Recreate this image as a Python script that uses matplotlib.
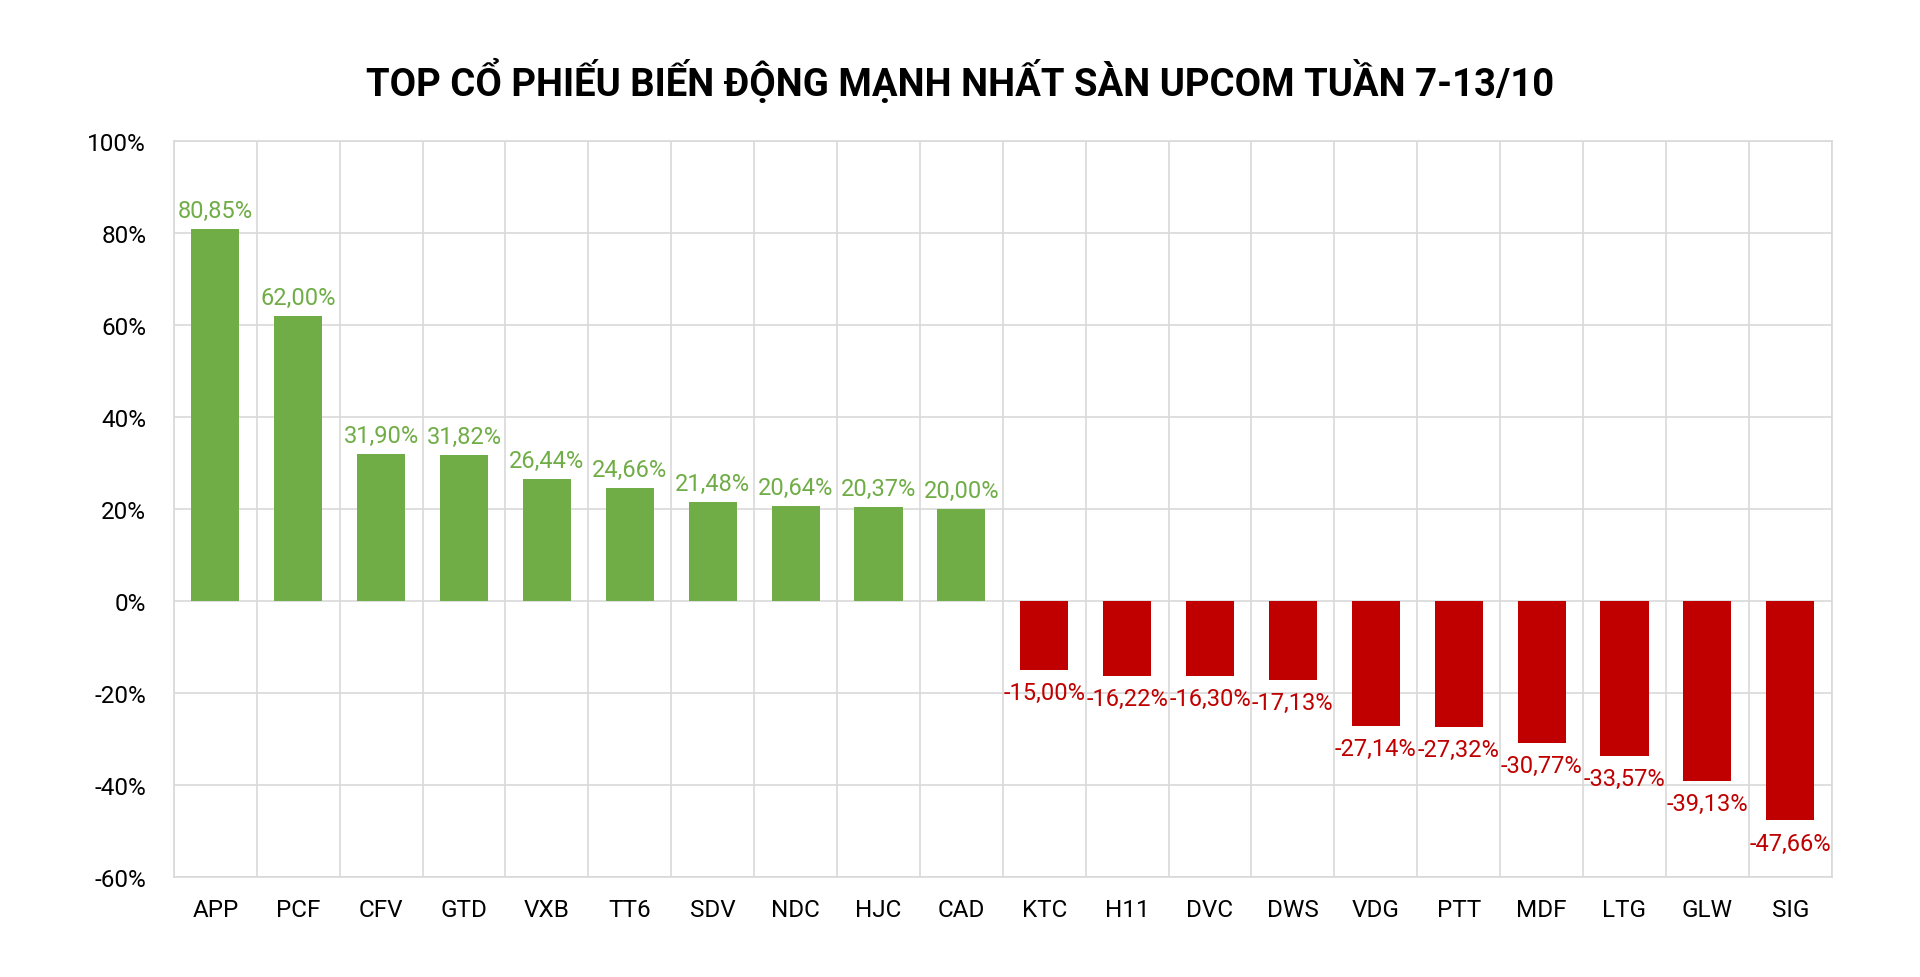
import matplotlib
matplotlib.use("Agg")
import matplotlib.pyplot as plt
import numpy as np

title = "TOP CỔ PHIẾU BIẾN ĐỘNG MẠNH NHẤT SÀN UPCOM TUẦN 7-13/10"
tickers = ["APP", "PCF", "CFV", "GTD", "VXB", "TT6", "SDV", "NDC", "HJC", "CAD",
           "KTC", "H11", "DVC", "DWS", "VDG", "PTT", "MDF", "LTG", "GLW", "SIG"]
changes = [80.85, 62.00, 31.90, 31.82, 26.44, 24.66, 21.48, 20.64, 20.37, 20.00,
           -15.00, -16.22, -16.30, -17.13, -27.14, -27.32, -30.77, -33.57, -39.13, -47.66]
y_ticks = [-60, -40, -20, 0, 20, 40, 60, 80, 100]

GREEN = "#70AD47"
RED = "#C00000"
GRID = "#D9D9D9"

plt.rcParams['font.family'] = ['Roboto', 'DejaVu Sans']

fig = plt.figure(figsize=(19.2, 9.78), dpi=100)
ax = fig.add_axes([0.0906, 0.102, 0.954 - 0.0906, 0.855 - 0.102])

x = np.arange(len(tickers))
colors = [GREEN if v >= 0 else RED for v in changes]
ax.bar(x, changes, width=0.58, color=colors, zorder=3)

for xi, v, c in zip(x, changes, colors):
    label = f"{v:.2f}".replace('.', ',') + '%'
    if v >= 0:
        ax.annotate(label, (xi, v), xytext=(0, 5), textcoords='offset points',
                    ha='center', va='bottom', color=c, fontsize=17)
    else:
        ax.annotate(label, (xi, v), xytext=(0, -8), textcoords='offset points',
                    ha='center', va='top', color=c, fontsize=17)

ax.set_xlim(-0.5, len(tickers) - 0.5)
ax.set_ylim(-60, 100)
ax.set_yticks(y_ticks)
ax.set_yticklabels([f"{t}%" for t in y_ticks], fontsize=17.5)
ax.set_xticks(x)
ax.set_xticklabels(tickers, fontsize=17.5)
ax.set_xticks(np.arange(len(tickers) + 1) - 0.5, minor=True)
ax.tick_params(axis='both', which='both', length=0)
ax.tick_params(axis='x', pad=15)
ax.tick_params(axis='y', pad=20)
ax.grid(True, axis='y', which='major', color=GRID, linewidth=1.2, zorder=0)
ax.grid(True, axis='x', which='minor', color=GRID, linewidth=1.2, zorder=0)
for s in ax.spines.values():
    s.set_color(GRID)
    s.set_linewidth(1.2)

fig.text(0.5, 1 - 81 / 978, title, ha='center', va='center',
         fontsize=27.5, fontweight='bold', color='black')

fig.savefig("out.png", dpi=100, facecolor='white')
